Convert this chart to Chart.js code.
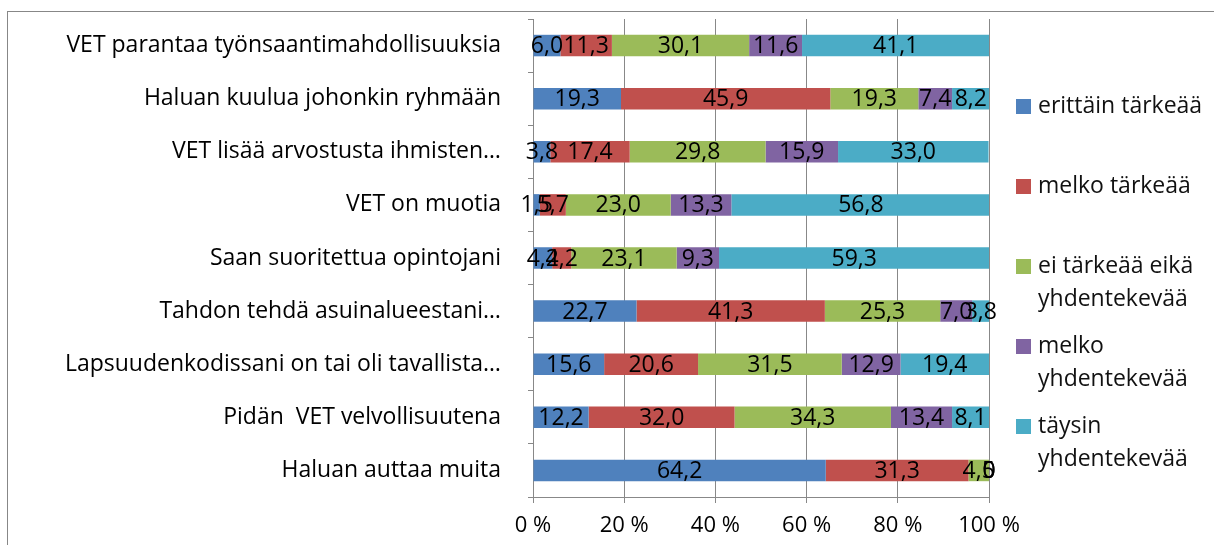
<!DOCTYPE html>
<html>
<head>
<meta charset="utf-8">
<script src="https://cdn.jsdelivr.net/npm/chart.js@4.4.1/dist/chart.umd.min.js"></script>
<style>
    html, body { margin: 0; padding: 0; background: #fff; }
    #wrap { position: relative; width: 1214px; height: 545px; }
</style>
</head>
<body>
<div id="wrap"><canvas id="vetChart"></canvas></div>
<script>
(function() {
    'use strict';

    // =========================================
    // DATA
    // =========================================
    var categories = [
        'VET parantaa työnsaantimahdollisuuksia',
        'Haluan kuulua johonkin ryhmään',
        'VET lisää arvostusta ihmisten…',
        'VET on muotia',
        'Saan suoritettua opintojani',
        'Tahdon tehdä asuinalueestani…',
        'Lapsuudenkodissani on tai oli tavallista…',
        'Pidän  VET velvollisuutena',
        'Haluan auttaa muita'
    ];

    var erittainTarkeaa   = [6.0, 19.3, 3.8, 1.5, 4.2, 22.7, 15.6, 12.2, 64.2];
    var melkoTarkeaa      = [11.3, 45.9, 17.4, 5.7, 4.2, 41.3, 20.6, 32.0, 31.3];
    var eiTarkeaaEika     = [30.1, 19.3, 29.8, 23.0, 23.1, 25.3, 31.5, 34.3, 4.5];
    var melkoYhdentekevaa = [11.6, 7.4, 15.9, 13.3, 9.3, 7.0, 12.9, 13.4, 0];
    var taysinYhdentekevaa = [41.1, 8.2, 33.0, 56.8, 59.3, 3.8, 19.4, 8.1, 0];

    var seriesNames = [
        ['erittäin tärkeää'],
        ['melko tärkeää'],
        ['ei tärkeää eikä', 'yhdentekevää'],
        ['melko', 'yhdentekevää'],
        ['täysin', 'yhdentekevää']
    ];
    var seriesColors = ['#4F81BD', '#C0504D', '#9BBB59', '#8064A2', '#4BACC6'];
    var xTicks = [0, 20, 40, 60, 80, 100];

    var FONT = '"Open Sans", sans-serif';
    var GRID = '#888888';

    function fmt(v) {
        if (v === 0) return '0';
        return v.toFixed(1).replace('.', ',');
    }

    // =========================================
    // PLUGINS
    // =========================================
    var frameBox = {
        id: 'frameBox',
        beforeDraw: function(chart) {
            var ctx = chart.ctx;
            ctx.save();
            ctx.fillStyle = '#fff';
            ctx.fillRect(0, 0, chart.width, chart.height);
            ctx.strokeStyle = '#878787';
            ctx.lineWidth = 1;
            ctx.strokeRect(7.5, 11.5, 1400, 700);
            ctx.restore();
        }
    };

    var barLabels = {
        id: 'barLabels',
        afterDatasetsDraw: function(chart) {
            var ctx = chart.ctx;
            ctx.save();
            ctx.font = '23px ' + FONT;
            ctx.fillStyle = '#000';
            ctx.textAlign = 'center';
            ctx.textBaseline = 'middle';
            chart.data.datasets.forEach(function(ds, i) {
                var meta = chart.getDatasetMeta(i);
                meta.data.forEach(function(bar, j) {
                    var cx = (bar.x + bar.base) / 2;
                    ctx.fillText(fmt(ds.data[j]), cx, bar.y + 1);
                });
            });
            ctx.restore();
        }
    };

    var sideLegend = {
        id: 'sideLegend',
        afterDraw: function(chart) {
            var ctx = chart.ctx;
            ctx.save();
            ctx.font = '23px ' + FONT;
            ctx.textBaseline = 'middle';
            ctx.textAlign = 'left';
            seriesNames.forEach(function(lines, i) {
                var y = 106 + i * 80;
                ctx.fillStyle = seriesColors[i];
                ctx.fillRect(1016, y - 7, 15, 15);
                ctx.fillStyle = '#111';
                lines.forEach(function(t, k) {
                    ctx.fillText(t, 1038, y + k * 33);
                });
            });
            ctx.restore();
        }
    };

    // =========================================
    // CHART
    // =========================================
    var rows = [erittainTarkeaa, melkoTarkeaa, eiTarkeaaEika, melkoYhdentekevaa, taysinYhdentekevaa];

    new Chart(document.getElementById('vetChart'), {
        type: 'bar',
        data: {
            labels: categories,
            datasets: rows.map(function(r, i) {
                return {
                    label: seriesNames[i].join(' '),
                    data: r,
                    backgroundColor: seriesColors[i],
                    borderWidth: 0,
                    barPercentage: 0.405,
                    categoryPercentage: 1
                };
            })
        },
        options: {
            indexAxis: 'y',
            responsive: true,
            maintainAspectRatio: false,
            animation: false,
            layout: { padding: { top: 19, right: 225, bottom: 0, left: 0 } },
            plugins: {
                legend: { display: false },
                tooltip: { enabled: false }
            },
            scales: {
                x: {
                    stacked: true,
                    min: 0,
                    max: 100,
                    afterBuildTicks: function(scale) {
                        scale.ticks = xTicks.map(function(v) { return { value: v }; });
                    },
                    afterFit: function(scale) { scale.height = 48; },
                    ticks: {
                        padding: 10,
                        color: '#000',
                        font: { family: FONT, size: 22 },
                        maxRotation: 0,
                        callback: function(v) { return v + ' %'; }
                    },
                    grid: { color: GRID, tickColor: GRID, tickLength: 6, lineWidth: 1 },
                    border: { color: GRID }
                },
                y: {
                    stacked: true,
                    afterFit: function(scale) {
                        scale.width = 533;
                        scale.paddingTop = 0;
                        scale.paddingBottom = 0;
                    },
                    ticks: {
                        padding: 27,
                        color: '#000',
                        autoSkip: false,
                        font: { family: FONT, size: 23 }
                    },
                    grid: {
                        offset: true,
                        drawOnChartArea: false,
                        color: GRID,
                        tickColor: GRID,
                        tickLength: 5
                    },
                    border: { color: GRID }
                }
            }
        },
        plugins: [frameBox, barLabels, sideLegend]
    });
})();
</script>
</body>
</html>
